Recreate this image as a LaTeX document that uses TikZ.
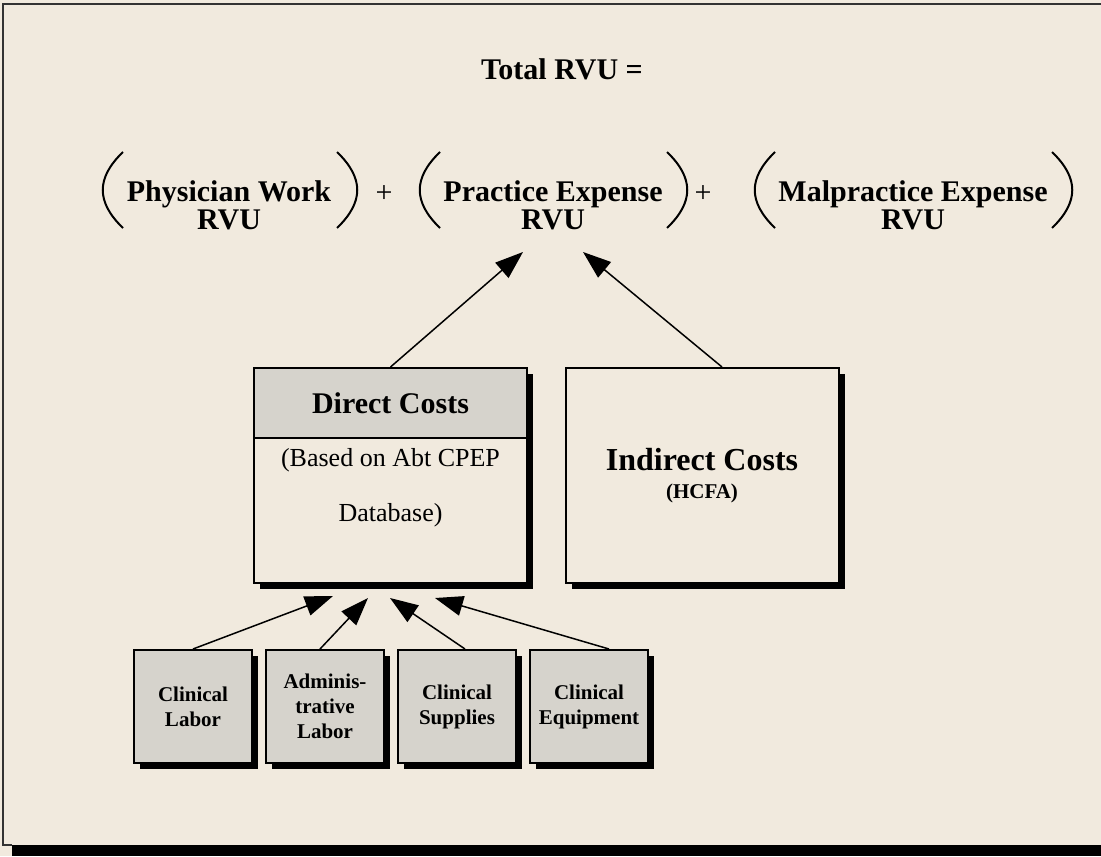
\documentclass[tikz,border=0pt]{standalone}
\usepackage{fontspec}
\setmainfont{Liberation Serif}
\usetikzlibrary{arrows.meta, shadows}
\definecolor{paper}{RGB}{241,234,222}
\definecolor{stipple}{RGB}{214,211,204}
\tikzstyle{eqtext} = [font=\bfseries\fontsize{15}{14}\selectfont, align=center, inner sep=0pt]
\tikzstyle{paren} = [line width=1pt]
\tikzstyle{bigbox} = [rectangle, minimum width=136.5pt, minimum height=107.5pt, draw=black, line width=1pt, fill=paper, general shadow={fill=black, shadow xshift=3pt, shadow yshift=-3pt}]
\tikzstyle{header} = [rectangle, minimum width=136.5pt, minimum height=35pt, anchor=north, draw=black, line width=1pt, fill=stipple, font=\bfseries\fontsize{15}{18}\selectfont]
\tikzstyle{costbox} = [rectangle, minimum width=59pt, minimum height=56.5pt, align=center, draw=black, line width=1pt, fill=stipple, general shadow={fill=black, shadow xshift=3pt, shadow yshift=-3pt}, font=\bfseries\fontsize{10.5}{12.5}\selectfont]
\tikzstyle{arrow} = [line width=0.75pt, -{Triangle[length=14pt, width=10pt]}]

\begin{document}
\begin{tikzpicture}[x=0.5pt, y=-0.5pt, node distance=66pt]
\useasboundingbox (0,0) rectangle (1101,856);
\fill [paper] (0,0) rectangle (1101,856);
\draw [line width=0.7pt, black!80] (1101,4) -- (3,4) -- (3,845) -- (12,845);
\fill [black] (12,845) rectangle (1101,856);

\node (total) [eqtext] at (562,69) {Total RVU =};
\node (pw) [eqtext] at (229,205) {Physician Work\\RVU};
\node (plus1) [eqtext, font=\fontsize{15}{14}\selectfont] at (384,194) {+};
\node (pe) [eqtext] at (553,205) {Practice Expense\\RVU};
\node (plus2) [eqtext, font=\fontsize{15}{14}\selectfont] at (703,194) {+};
\node (me) [eqtext] at (913,205) {Malpractice Expense\\RVU};
\foreach \lx/\rx in {123/337, 440/667, 775/1052} {
  \draw [paren] (\lx,152) .. controls (\lx-27,178) and (\lx-27,202) .. (\lx,228);
  \draw [paren] (\rx,152) .. controls (\rx+27,178) and (\rx+27,202) .. (\rx,228);
}

\node (direct) [bigbox] at (390.5,475.5) {};
\node (dhead) [header] at (direct.north) {Direct Costs};
\node (dbody) [font=\fontsize{13}{27.5}\selectfont, align=center] at (390.5,488) {(Based on Abt CPEP\\Database)};
\node (indirect) [bigbox, align=center, font=\bfseries\fontsize{16}{14}\selectfont] at (702,475.5) {Indirect Costs\\{\fontsize{10.5}{14}\selectfont (HCFA)}};

\node (clab) [costbox] at (193,706.5) {Clinical\\Labor};
\node (alab) [costbox, right of=clab] {Adminis-\\trative\\Labor};
\node (csup) [costbox, right of=alab] {Clinical\\Supplies};
\node (ceq) [costbox, right of=csup] {Clinical\\Equipment};

\coordinate (pein1) at (523,252);
\coordinate (pein2) at (583,252);
\coordinate (din1) at (333,596);
\coordinate (din2) at (368,598);
\coordinate (din3) at (390,598);
\coordinate (din4) at (435,598);

\draw [arrow] (direct.north) -- (pein1);
\draw [arrow] ([xshift=10pt]indirect.north) -- (pein2);
\draw [arrow] (clab.north) -- (din1);
\draw [arrow] ([xshift=-2.5pt]alab.north) -- (din2);
\draw [arrow] ([xshift=4pt]csup.north) -- (din3);
\draw [arrow] ([xshift=10pt]ceq.north) -- (din4);
\end{tikzpicture}
\end{document}
